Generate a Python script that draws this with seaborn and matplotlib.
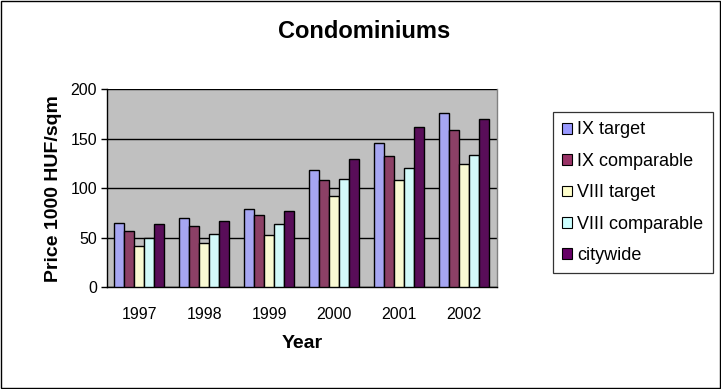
import matplotlib
matplotlib.use("Agg")
import matplotlib.pyplot as plt
import seaborn as sns
import pandas as pd
import numpy as np
from matplotlib.patches import Rectangle

years = ["1997", "1998", "1999", "2000", "2001", "2002"]
series = ["IX target", "IX comparable", "VIII target", "VIII comparable", "citywide"]
ix_target = [65, 70, 79, 118, 146, 176]
ix_comparable = [57, 62, 73, 108, 132, 159]
viii_target = [41, 45, 53, 92, 108, 124]
viii_comparable = [50, 54, 64, 109, 120, 133]
citywide = [64, 67, 77, 129, 162, 170]
colors = ["#9999FF", "#993366", "#FFFFCC", "#CCFFFF", "#660066"]

values = [ix_target, ix_comparable, viii_target, viii_comparable, citywide]
df = pd.DataFrame({
    "Year": [y for s in series for y in years],
    "Series": [s for s in series for _ in years],
    "Price": [v for vals in values for v in vals],
})

sns.set_style("white")
plt.rcParams["font.family"] = ["Liberation Sans", "DejaVu Sans"]
plt.rcParams.update({"text.color": "black", "axes.labelcolor": "black",
                     "xtick.color": "black", "ytick.color": "black"})

fig = plt.figure(figsize=(7.21, 3.89), dpi=100)
ax = fig.add_axes([0.148, 0.262, 0.541, 0.509])

sns.barplot(data=df, x="Year", y="Price", hue="Series", palette=colors,
            width=0.77, edgecolor="black", linewidth=1.0, ax=ax,
            legend=False, zorder=3)

ax.set_facecolor("#C0C0C0")
ax.set_ylim(0, 200)
ax.set_xlim(-0.5, 5.5)
ax.set_yticks([0, 50, 100, 150, 200])
ax.yaxis.grid(True, color="black", linewidth=1.0, zorder=1)
ax.set_axisbelow(True)

# category labels centred, tick marks on the boundaries between years
ax.set_xticks(range(len(years)))
ax.set_xticklabels(years)
ax.set_xticks(np.arange(0.5, len(years) - 0.5 + 1, 1), minor=True)
ax.tick_params(axis="x", which="major", length=0, labelsize=11.5, pad=14)
ax.tick_params(axis="x", which="minor", length=4, width=1, color="black", direction="out")
ax.tick_params(axis="y", which="major", length=4, width=1, color="black",
               direction="out", labelsize=11.5, left=True, pad=3)

for side in ["left", "bottom"]:
    ax.spines[side].set_color("black")
    ax.spines[side].set_linewidth(1.0)
ax.spines["top"].set_visible(False)
ax.spines["right"].set_color("#808080")
ax.spines["right"].set_linewidth(1.0)

ax.set_xlabel("Year", fontsize=14, fontweight="bold", labelpad=10)
ax.set_ylabel("Price 1000 HUF/sqm", fontsize=14, fontweight="bold", labelpad=6)

fig.text(0.505, 0.918, "Condominiums", ha="center", va="center",
         fontsize=17, fontweight="bold")

handles = [Rectangle((0, 0), 1, 1, facecolor=c, edgecolor="black", linewidth=0.8)
           for c in colors]
leg = fig.legend(handles, series, loc="upper left",
                 bbox_to_anchor=(0.767, 0.711), frameon=True, fontsize=13,
                 handlelength=0.55, handleheight=0.55, handletextpad=0.3,
                 labelspacing=0.8, borderpad=0.5, borderaxespad=0,
                 fancybox=False)
leg.get_frame().set_edgecolor("black")
leg.get_frame().set_linewidth(0.9)

# outer chart border
fig.patches.append(Rectangle((0.002, 0.003), 0.996, 0.994, transform=fig.transFigure,
                             fill=False, edgecolor="black", linewidth=1.0))

fig.savefig("out.png", dpi=100, facecolor="white")
